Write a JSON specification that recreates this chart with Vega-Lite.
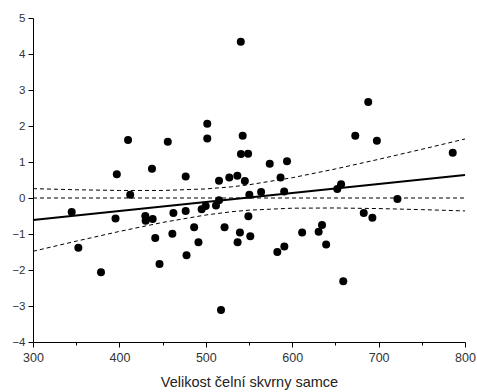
{
  "$schema": "https://vega.github.io/schema/vega-lite/v6.json",
  "width": 432,
  "height": 324,
  "autosize": {"type": "none"},
  "padding": {"left": 33, "top": 18, "right": 12, "bottom": 50},
  "background": "white",
  "config": {
    "view": {"stroke": null},
    "font": "Liberation Sans",
    "axis": {"grid": false, "domainColor": "#000", "tickColor": "#000", "labelColor": "#333", "labelFont": "Liberation Sans", "titleFont": "Liberation Sans"}
  },
  "datasets": {
    "pts": [
      {"x": 344.8, "y": -0.39}, {"x": 352.5, "y": -1.38}, {"x": 378.7, "y": -2.06}, {"x": 395.5, "y": -0.57},
      {"x": 397, "y": 0.66}, {"x": 410, "y": 1.61}, {"x": 412.5, "y": 0.09}, {"x": 430, "y": -0.5},
      {"x": 430.4, "y": -0.63}, {"x": 438.5, "y": -0.58}, {"x": 437.7, "y": 0.81}, {"x": 441.5, "y": -1.11},
      {"x": 446.4, "y": -1.83}, {"x": 456, "y": 1.56}, {"x": 461.3, "y": -0.99}, {"x": 462.5, "y": -0.42},
      {"x": 476.7, "y": 0.6}, {"x": 476.7, "y": -0.36}, {"x": 477.7, "y": -1.59}, {"x": 486.5, "y": -0.81},
      {"x": 491.5, "y": -1.23}, {"x": 495.2, "y": -0.31}, {"x": 499.9, "y": -0.22}, {"x": 501.7, "y": 2.06},
      {"x": 501.7, "y": 1.65}, {"x": 511.8, "y": -0.21}, {"x": 515.3, "y": -0.06}, {"x": 515.3, "y": 0.48},
      {"x": 517.6, "y": -3.11}, {"x": 521.7, "y": -0.81}, {"x": 527.2, "y": 0.57}, {"x": 536.5, "y": 0.62},
      {"x": 536.8, "y": -1.23}, {"x": 539.5, "y": -0.96}, {"x": 540.5, "y": 4.34}, {"x": 540.7, "y": 1.22},
      {"x": 542.7, "y": 1.73}, {"x": 549, "y": 1.23}, {"x": 545.2, "y": 0.47}, {"x": 549.3, "y": -0.51},
      {"x": 550.4, "y": 0.09}, {"x": 551.5, "y": -1.06}, {"x": 564, "y": 0.17}, {"x": 574, "y": 0.95},
      {"x": 582.8, "y": -1.5}, {"x": 586.5, "y": 0.57}, {"x": 590.7, "y": 0.18}, {"x": 590.9, "y": -1.35},
      {"x": 594, "y": 1.02}, {"x": 611.5, "y": -0.96}, {"x": 630.6, "y": -0.94}, {"x": 634.5, "y": -0.75},
      {"x": 639.3, "y": -1.29}, {"x": 652.2, "y": 0.25}, {"x": 656.6, "y": 0.38}, {"x": 659.1, "y": -2.31},
      {"x": 673, "y": 1.73}, {"x": 682.8, "y": -0.42}, {"x": 688, "y": 2.67}, {"x": 692.8, "y": -0.55},
      {"x": 698, "y": 1.59}, {"x": 721.8, "y": -0.03}, {"x": 785.8, "y": 1.26}
    ],
    "lines": [
      {"series": "fit", "x": 300, "y": -0.61}, {"series": "fit", "x": 800, "y": 0.64},
      {"series": "zero", "x": 300, "y": 0}, {"series": "zero", "x": 800, "y": 0},
      {"series": "upper", "x": 300, "y": 0.26}, {"series": "upper", "x": 350, "y": 0.229},
      {"series": "upper", "x": 400, "y": 0.209}, {"series": "upper", "x": 450, "y": 0.209},
      {"series": "upper", "x": 500, "y": 0.252}, {"series": "upper", "x": 530, "y": 0.311},
      {"series": "upper", "x": 550, "y": 0.368}, {"series": "upper", "x": 600, "y": 0.563},
      {"series": "upper", "x": 650, "y": 0.807}, {"series": "upper", "x": 700, "y": 1.074},
      {"series": "upper", "x": 750, "y": 1.353}, {"series": "upper", "x": 800, "y": 1.639},
      {"series": "lower", "x": 300, "y": -1.48}, {"series": "lower", "x": 350, "y": -1.199},
      {"series": "lower", "x": 400, "y": -0.929}, {"series": "lower", "x": 450, "y": -0.679},
      {"series": "lower", "x": 500, "y": -0.472}, {"series": "lower", "x": 530, "y": -0.381},
      {"series": "lower", "x": 550, "y": -0.338}, {"series": "lower", "x": 600, "y": -0.283},
      {"series": "lower", "x": 650, "y": -0.277}, {"series": "lower", "x": 700, "y": -0.294},
      {"series": "lower", "x": 750, "y": -0.323}, {"series": "lower", "x": 800, "y": -0.359}
    ]
  },
  "encoding": {
    "x": {"field": "x", "type": "quantitative", "scale": {"domain": [300, 800], "nice": false},
          "axis": {"orient": "bottom", "values": [300, 350, 400, 450, 500, 550, 600, 650, 700, 750, 800],
                   "labelExpr": "datum.value % 100 === 0 ? datum.label : ''",
                   "tickSize": {"condition": {"test": "datum.value % 100 === 0", "value": 5}, "value": 3},
                   "labelPadding": 4, "labelFontSize": 12.5, "labelFlush": false, "labelOverlap": false,
                   "title": "Velikost čelní skvrny samce", "titleFontSize": 14.5, "titleFontWeight": "normal", "titleColor": "#222", "titlePadding": 12}},
    "y": {"field": "y", "type": "quantitative", "scale": {"domain": [-4, 5], "nice": false},
          "axis": {"values": [-4, -3, -2, -1, 0, 1, 2, 3, 4, 5], "tickSize": 5, "labelPadding": 3, "labelFontSize": 11.5, "labelFlush": false, "labelOverlap": false, "title": null}}
  },
  "layer": [
    {
      "data": {"name": "lines"},
      "transform": [{"filter": "datum.series !== 'fit'"}],
      "mark": {"type": "line", "color": "#000", "strokeWidth": 1, "strokeDash": [4, 3]},
      "encoding": {"detail": {"field": "series"}}
    },
    {
      "data": {"name": "lines"},
      "transform": [{"filter": "datum.series === 'fit'"}],
      "mark": {"type": "line", "color": "#000", "strokeWidth": 2},
      "encoding": {}
    },
    {
      "data": {"name": "pts"},
      "mark": {"type": "point", "shape": "circle", "filled": true, "color": "#000", "opacity": 1, "size": 64},
      "encoding": {}
    }
  ]
}
